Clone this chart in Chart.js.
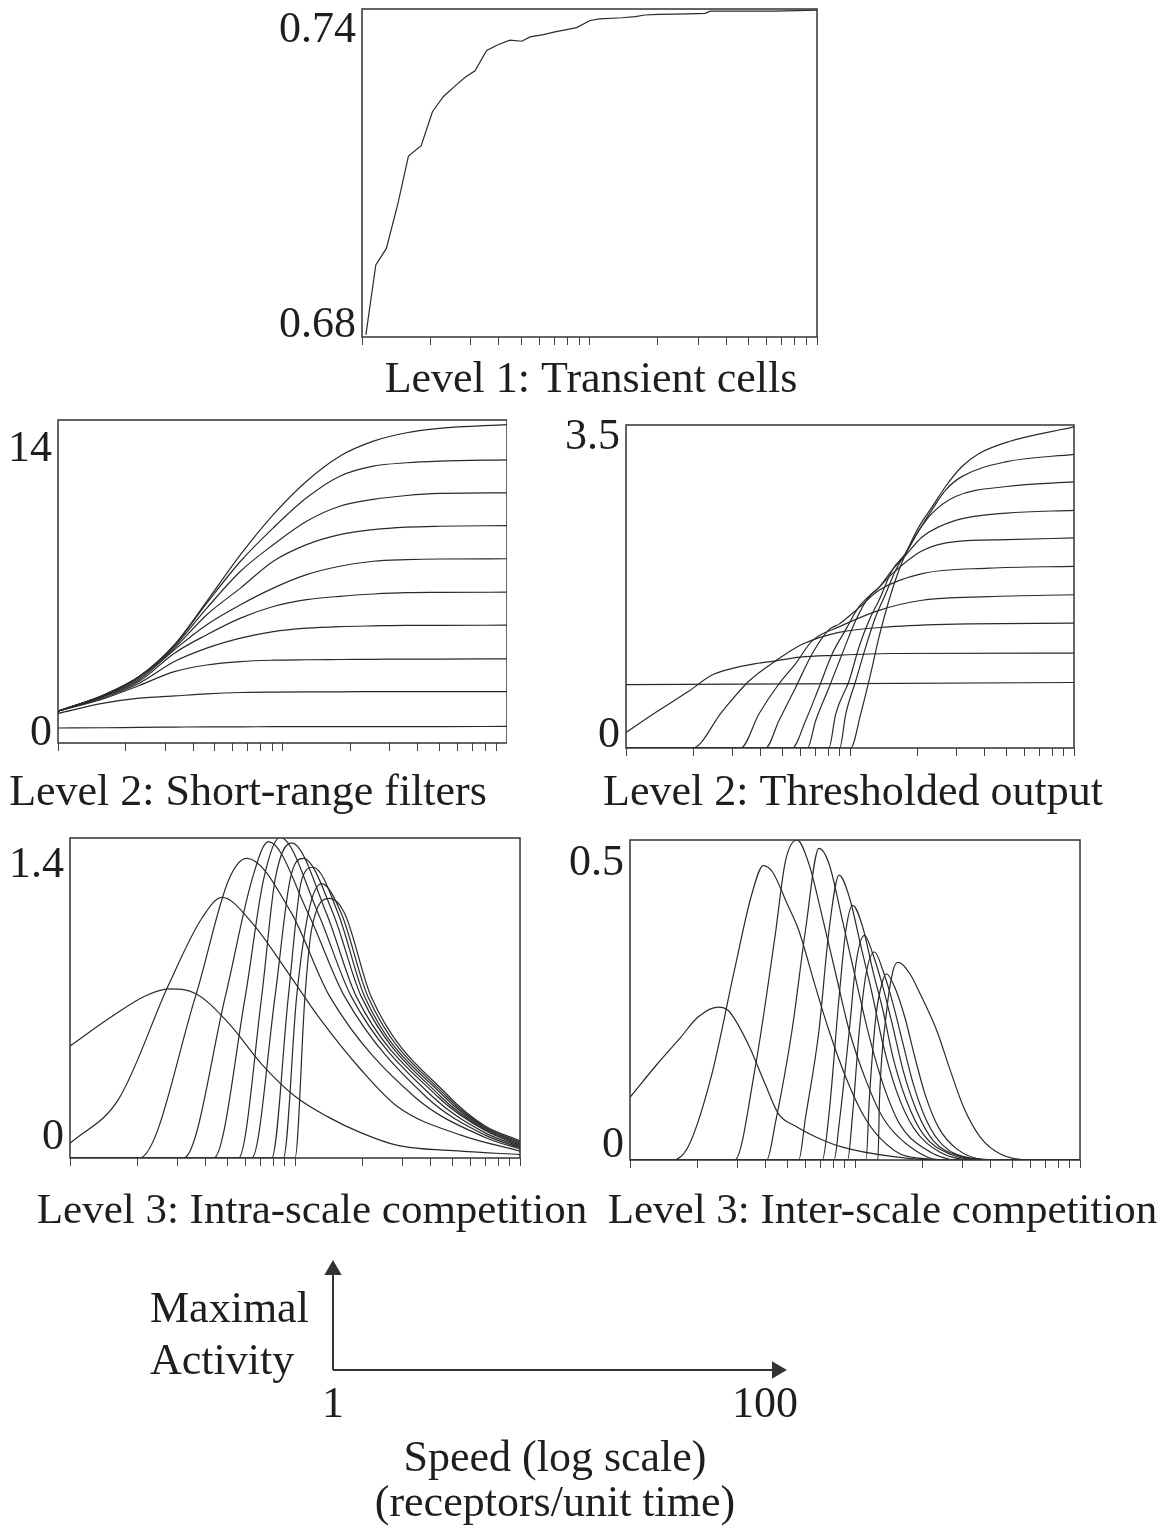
<!DOCTYPE html>
<html>
<head>
<meta charset="utf-8">
<script src="https://cdn.jsdelivr.net/npm/chart.js@4.4.0/dist/chart.umd.min.js"></script>
<style>
  html, body { margin: 0; padding: 0; background: #fff; }
  body { position: relative; width: 1176px; height: 1529px; overflow: hidden; }
  canvas { position: absolute; }
</style>
</head>
<body>
<canvas id="transientChart"></canvas>
<canvas id="filterChart"></canvas>
<canvas id="thresholdChart"></canvas>
<canvas id="intraChart"></canvas>
<canvas id="interChart"></canvas>
<canvas id="legendChart"></canvas>
<script>
// x axis (speed, log scale) tick marks shared by every panel
const speedTicks = [1, 2, 3, 4, 5, 6, 7, 8, 9, 10, 20, 30, 40, 50, 60, 70, 80, 90, 100];

// Level 1: Transient cells
const transientSpeed = [1.04, 1.15, 1.28, 1.44, 1.6, 1.82, 2.04, 2.28, 2.56, 2.84, 3.14, 3.53, 3.98, 4.47, 5.04, 5.48, 6.27, 7.05, 8.35, 8.78, 10.05, 11.1, 13.9, 15.9, 17.5, 20.1, 27.2, 32.2, 33.9, 65.4, 100];
const transientActivity = [0.6804, 0.6932, 0.6962, 0.7045, 0.7131, 0.7150, 0.7212, 0.7240, 0.7259, 0.7275, 0.7287, 0.7324, 0.7335, 0.7343, 0.7341, 0.7349, 0.7353, 0.7358, 0.7364, 0.7366, 0.7379, 0.7382, 0.7384, 0.7386, 0.7389, 0.7390, 0.7391, 0.7392, 0.7396, 0.7396, 0.7398];
const transientTicks = ['0.68', '0.74'];

// Level 2: Short-range filters (one row per filter, sampled at filterSpeed)
const filterSpeed = [1, 1.6, 2.3, 3.3, 4.6, 6.5, 9.1, 12.8, 18, 25.4, 35.7, 50, 100];
const filterCurves = [
  [1.4, 2.11, 2.92, 4.32, 6.23, 8.28, 10.04, 11.51, 12.61, 13.27, 13.64, 13.83, 14.0],
  [1.4, 2.11, 2.92, 4.3, 6.15, 7.99, 9.46, 10.78, 11.73, 12.17, 12.32, 12.39, 12.45],
  [1.4, 2.11, 2.92, 4.25, 5.93, 7.55, 8.72, 9.75, 10.41, 10.71, 10.88, 10.97, 11.0],
  [1.4, 2.1, 2.85, 4.17, 5.64, 6.81, 7.99, 8.72, 9.16, 9.38, 9.49, 9.53, 9.56],
  [1.4, 2.08, 2.78, 4.1, 5.2, 6.08, 6.81, 7.4, 7.77, 7.99, 8.06, 8.09, 8.1],
  [1.4, 2.05, 2.71, 3.95, 4.76, 5.49, 6.0, 6.3, 6.45, 6.55, 6.61, 6.62, 6.63],
  [1.4, 2.0, 2.63, 3.58, 4.17, 4.61, 4.9, 5.05, 5.12, 5.15, 5.17, 5.17, 5.18],
  [1.4, 1.95, 2.53, 3.14, 3.43, 3.58, 3.64, 3.66, 3.67, 3.68, 3.69, 3.69, 3.7],
  [1.3, 1.75, 1.97, 2.07, 2.16, 2.22, 2.24, 2.25, 2.25, 2.26, 2.26, 2.26, 2.26],
  [0.66, 0.67, 0.69, 0.7, 0.71, 0.71, 0.72, 0.72, 0.72, 0.72, 0.72, 0.72, 0.73]
];
const filterTicks = ['0', '14'];

// Level 2: Thresholded output, [speed, activity] per curve
const thresholdCurves = [
  [[1, 0], [10.07, 0], [11.16, 0.37], [12.37, 0.81], [13.48, 1.21], [14.93, 1.61], [16.55, 1.94], [18.3, 2.19], [20.3, 2.41], [23.3, 2.63], [26.7, 2.85], [31.7, 3.07], [37.7, 3.21], [51.3, 3.34], [100, 3.5]],
  [[1, 0], [9.0, 0], [9.57, 0.37], [10.6, 0.73], [11.75, 1.1], [13.02, 1.43], [14.43, 1.68], [16.0, 1.94], [17.7, 2.12], [20.3, 2.37], [23.3, 2.6], [26.7, 2.81], [31.7, 2.96], [50, 3.12], [100, 3.2]],
  [[1, 0], [8.05, 0], [8.63, 0.37], [9.9, 0.73], [10.97, 1.1], [12.16, 1.39], [13.48, 1.61], [15.45, 1.94], [17.7, 2.12], [20.3, 2.37], [23.3, 2.56], [29.6, 2.74], [50, 2.85], [100, 2.9]],
  [[1, 0], [6.45, 0], [7.03, 0.3], [8.06, 0.66], [9.24, 1.03], [10.6, 1.39], [12.16, 1.65], [13.48, 1.75], [15.45, 1.94], [17.7, 2.1], [21.0, 2.3], [29.6, 2.48], [50, 2.56], [100, 2.59]],
  [[1, 0], [5.52, 0], [6.34, 0.3], [7.27, 0.66], [8.34, 1.03], [9.57, 1.29], [10.97, 1.54], [13.48, 1.75], [15.45, 1.9], [21.0, 2.15], [29.6, 2.25], [50, 2.27], [100, 2.29]],
  [[1, 0], [4.2, 0], [4.82, 0.3], [5.72, 0.66], [6.79, 1.03], [8.06, 1.29], [8.93, 1.35], [10.97, 1.53], [13.48, 1.72], [21.0, 1.9], [41.7, 1.96], [100, 1.98]],
  [[1, 0], [3.25, 0], [3.92, 0.37], [4.82, 0.7], [5.72, 0.92], [6.79, 1.17], [8.93, 1.32], [13.48, 1.5], [21.0, 1.61], [41.7, 1.65], [100, 1.67]],
  [[1, 0], [1.98, 0], [2.69, 0.4], [3.54, 0.73], [4.66, 0.95], [6.12, 1.13], [8.93, 1.26], [14.9, 1.32], [29.6, 1.35], [100, 1.36]],
  [[1, 0.17], [1.36, 0.39], [1.91, 0.62], [2.4, 0.79], [2.9, 0.86], [3.79, 0.92], [4.66, 0.95], [6, 0.99], [8.5, 1.01], [15, 1.03], [100, 1.035]],
  [[1, 0.69], [100, 0.714]]
];
const thresholdTicks = ['0', '3.5'];

// Level 3: Intra-scale competition
const intraCurves = [
  [[1, 0.49], [1.54, 0.62], [2.17, 0.71], [2.75, 0.74], [3.61, 0.72], [5.07, 0.59], [7.12, 0.41], [10, 0.27], [14, 0.18], [19.7, 0.11], [28.6, 0.055], [54.6, 0.03], [100, 0.015]],
  [[1, 0.064], [1.65, 0.26], [2.75, 0.76], [3.86, 1.05], [4.74, 1.14], [6.43, 1.03], [9.03, 0.83], [12.68, 0.62], [19.7, 0.385], [28.6, 0.224], [54.6, 0.1], [100, 0.03]],
  [[1, 0], [2.03, 0], [3.61, 0.706], [5.07, 1.216], [6.11, 1.311], [9.66, 1.07], [14.28, 0.706], [33.96, 0.268], [70, 0.09], [100, 0.04]],
  [[1, 0], [3.2, 0], [4.9, 0.706], [6.43, 1.216], [7.62, 1.384], [11.45, 1.07], [16.63, 0.706], [38.2, 0.268], [70, 0.1], [100, 0.045]],
  [[1, 0], [4.35, 0], [6.01, 0.706], [7.24, 1.216], [8.58, 1.403], [12.68, 1.07], [17.8, 0.706], [40.9, 0.268], [70, 0.11], [100, 0.05]],
  [[1, 0], [5.61, 0], [7.11, 0.706], [8.15, 1.216], [9.66, 1.379], [13.8, 1.07], [18.74, 0.706], [43.1, 0.268], [70, 0.12], [100, 0.055]],
  [[1, 0], [6.43, 0], [8.15, 0.706], [9.5, 1.216], [10.88, 1.311], [14.77, 1.07], [19.72, 0.706], [44.5, 0.268], [70, 0.125], [100, 0.06]],
  [[1, 0], [7.88, 0], [9.34, 0.706], [10.7, 1.216], [12.05, 1.272], [15.55, 1.07], [20.4, 0.706], [46.1, 0.268], [70, 0.13], [100, 0.065]],
  [[1, 0], [8.88, 0], [10.17, 0.706], [11.45, 1.07], [13.11, 1.2], [16.07, 1.07], [21.1, 0.706], [47.3, 0.268], [70, 0.135], [100, 0.07]],
  [[1, 0], [10.0, 0], [11.07, 0.706], [11.85, 1.0], [14.28, 1.136], [16.63, 1.07], [21.8, 0.706], [48.5, 0.268], [70, 0.14], [100, 0.075]]
];
const intraTicks = ['0', '1.4'];

// Level 3: Inter-scale competition
const interCurves = [
  [[1, 0.098], [1.322, 0.15], [1.683, 0.192], [2.0, 0.223], [2.459, 0.239], [2.727, 0.234], [3.353, 0.181], [3.983, 0.119], [4.571, 0.072], [5.5, 0.052], [6.7, 0.036], [8.8, 0.02], [14.26, 0.006], [23.9, 0], [100, 0]],
  [[1, 0], [1.544, 0], [1.803, 0.019], [2.295, 0.13], [2.921, 0.299], [3.47, 0.414], [3.914, 0.46], [4.3, 0.45], [5.0, 0.4], [5.622, 0.359], [6.68, 0.27], [7.665, 0.202], [9.11, 0.129], [10.82, 0.072], [12.86, 0.035], [16.93, 0.006], [28.4, 0], [100, 0]],
  [[1, 0], [2.921, 0], [3.592, 0.142], [4.417, 0.351], [4.9, 0.466], [5.526, 0.5], [6.235, 0.463], [7.155, 0.38], [8.21, 0.291], [9.43, 0.202], [11.2, 0.124], [13.31, 0.066], [16.93, 0.025], [23.9, 0], [100, 0]],
  [[1, 0], [4.052, 0], [4.417, 0.056], [5.246, 0.202], [6.024, 0.359], [6.915, 0.487], [7.665, 0.463], [8.8, 0.374], [10.1, 0.281], [11.59, 0.192], [13.31, 0.119], [15.81, 0.056], [20.12, 0.019], [28.4, 0], [100, 0]],
  [[1, 0], [5.622, 0], [6.024, 0.066], [6.915, 0.202], [7.665, 0.359], [8.5, 0.445], [9.43, 0.411], [10.64, 0.333], [12.0, 0.255], [13.31, 0.181], [15.28, 0.108], [18.15, 0.051], [23.9, 0.012], [33.76, 0], [100, 0]],
  [[1, 0], [7.155, 0], [7.665, 0.072], [8.5, 0.255], [9.11, 0.359], [9.76, 0.398], [10.82, 0.364], [12.0, 0.296], [13.31, 0.234], [14.76, 0.16], [16.93, 0.093], [20.12, 0.04], [26.51, 0.009], [37.42, 0], [100, 0]],
  [[1, 0], [8.07, 0], [8.5, 0.056], [9.43, 0.202], [10.1, 0.307], [11.01, 0.351], [12.0, 0.322], [13.31, 0.27], [14.76, 0.207], [16.36, 0.14], [18.79, 0.077], [22.32, 0.03], [29.4, 0.006], [40.1, 0], [100, 0]],
  [[1, 0], [9.27, 0], [9.76, 0.072], [10.45, 0.202], [11.2, 0.291], [12.21, 0.325], [13.31, 0.296], [14.76, 0.244], [16.36, 0.181], [18.15, 0.119], [20.83, 0.061], [24.74, 0.022], [32.6, 0.003], [44.46, 0], [100, 0]],
  [[1, 0], [11.2, 0], [11.59, 0.098], [12.42, 0.228], [13.31, 0.281], [13.77, 0.291], [15.02, 0.27], [16.65, 0.223], [18.47, 0.16], [20.47, 0.103], [23.5, 0.051], [28.4, 0.017], [37.42, 0.001], [49.3, 0], [100, 0]],
  [[1, 0], [12.64, 0], [12.86, 0.098], [13.77, 0.228], [14.76, 0.296], [15.54, 0.309], [17.53, 0.291], [19.45, 0.26], [23.1, 0.202], [26.51, 0.14], [30.43, 0.082], [36.15, 0.035], [44.46, 0.009], [60.6, 0], [100, 0]]
];
const interTicks = ['0', '0.5'];

// axis legend
const legendSpeedTicks = [1, 100];
const legendSpeedLabels = ['1', '100'];
const legendActivityLabel = ['Maximal', 'Activity'];
const legendSpeedTitle = ['Speed (log scale)', '(receptors/unit time)'];

const serif = "'Liberation Serif', 'Times New Roman', serif";
const ink = '#1e1e1e';
const curveColor = '#2a2a2a';

// box round the plot area
const frame = {
  id: 'frame',
  afterDatasetsDraw(chart) {
    const { ctx, chartArea: a } = chart;
    ctx.save();
    ctx.strokeStyle = '#333';
    ctx.lineWidth = 1.5;
    ctx.strokeRect(a.left, a.top, a.right - a.left, a.bottom - a.top);
    ctx.restore();
  }
};

function place(id, g) {
  const cv = document.getElementById(id);
  cv.width = g.w;
  cv.height = g.h;
  cv.style.left = g.x + 'px';
  cv.style.top = g.y + 'px';
  return cv;
}

function panel(id, g, curves, yMin, yMax, yLabels, shift, title, titleSize, smooth) {
  new Chart(place(id, g), {
    type: 'line',
    data: {
      datasets: curves.map(pts => ({
        data: pts.map(p => ({ x: p[0], y: p[1] })),
        borderColor: curveColor,
        borderWidth: 1.2,
        pointRadius: 0,
        fill: false,
        tension: 0,
        cubicInterpolationMode: smooth ? 'monotone' : 'default'
      }))
    },
    options: {
      responsive: false,
      animation: false,
      layout: { autoPadding: false, padding: g.pad },
      plugins: {
        legend: { display: false },
        tooltip: { enabled: false },
        title: {
          display: true,
          text: title,
          position: 'bottom',
          color: ink,
          padding: 0,
          font: { family: serif, size: titleSize, weight: 'normal', lineHeight: '44px' }
        }
      },
      scales: {
        x: {
          type: 'logarithmic',
          min: 1,
          max: 100,
          afterBuildTicks: s => { s.ticks = speedTicks.map(v => ({ value: v })); },
          afterFit: s => { s.height = g.xh; s.paddingLeft = 0; s.paddingRight = 0; },
          ticks: { display: false },
          grid: { drawOnChartArea: false, drawTicks: true, tickLength: 8, color: '#444', lineWidth: 1 },
          border: { display: false }
        },
        y: {
          type: 'linear',
          min: yMin,
          max: yMax,
          afterBuildTicks: s => { s.ticks = [{ value: yMin }, { value: yMax }]; },
          afterFit: s => { s.width = g.yw; s.paddingTop = 0; s.paddingBottom = 0; },
          grid: { display: false, drawTicks: false },
          border: { display: false },
          ticks: {
            padding: 6,
            color: ink,
            autoSkip: false,
            callback: (v, i) => (i === 0 ? [yLabels[0], ''] : ['', yLabels[1]]),
            font: c => ({ family: serif, size: 44, lineHeight: (c.index === 0 ? shift[0] : shift[1]) * 2 + 'px' })
          }
        },
        // empty right-hand axis, only used to centre the caption like the original
        yRight: {
          axis: 'y',
          type: 'linear',
          position: 'right',
          afterFit: s => { s.width = g.yr; s.paddingTop = 0; s.paddingBottom = 0; },
          ticks: { display: false },
          grid: { display: false, drawTicks: false },
          border: { display: false }
        }
      }
    },
    plugins: [frame]
  });
}

// Level 1: Transient cells
panel('transientChart',
  { x: 270, y: 0, w: 642, h: 402, pad: { left: 0, right: 0, top: 9, bottom: 0 }, yw: 92, yr: 95, xh: 21 },
  [transientSpeed.map((s, i) => [s, transientActivity[i]])],
  0.68, 0.74, transientTicks, [12, 21], 'Level 1: Transient cells', 44, false);

// Level 2: Short-range filters
panel('filterChart',
  { x: -11, y: 410, w: 518, h: 405, pad: { left: 0, right: 0, top: 10, bottom: 0 }, yw: 69, yr: 0, xh: 28 },
  filterCurves.map(row => filterSpeed.map((s, i) => [s, row[i]])),
  0, 14.2, filterTicks, [10, 29], 'Level 2: Short-range filters', 44, true);

// Level 2: Thresholded output
panel('thresholdChart',
  { x: 555, y: 410, w: 591, h: 405, pad: { left: 5, right: 0, top: 15, bottom: 0 }, yw: 66, yr: 72, xh: 23 },
  thresholdCurves, 0, 3.52, thresholdTicks, [13, 12], 'Level 2: Thresholded output', 44, true);

// Level 3: Intra-scale competition
panel('intraChart',
  { x: 0, y: 828, w: 620, h: 406, pad: { left: 4, right: 0, top: 10, bottom: 0 }, yw: 66, yr: 100, xh: 32 },
  intraCurves, 0, 1.4, intraTicks, [21, 27], 'Level 3: Intra-scale competition', 43, true);

// Level 3: Inter-scale competition
panel('interChart',
  { x: 560, y: 828, w: 641, h: 406, pad: { left: 4, right: 0, top: 12, bottom: 0 }, yw: 66, yr: 121, xh: 30 },
  interCurves, 0, 0.5, interTicks, [15, 23], 'Level 3: Inter-scale competition', 43, true);

// Axis legend with arrows
const legendMax = 113.6;
new Chart(place('legendChart', { x: 140, y: 1245, w: 680, h: 284 }), {
  type: 'line',
  data: {
    datasets: [
      {
        data: [{ x: 1, y: 0 }, { x: legendMax, y: 0 }],
        borderColor: '#333',
        borderWidth: 2,
        pointStyle: 'triangle',
        pointRadius: [0, 8],
        pointRotation: [0, 90],
        pointBackgroundColor: '#333',
        pointBorderColor: '#333',
        clip: false
      },
      {
        data: [{ x: 1, y: 0 }, { x: 1, y: 1 }],
        borderColor: '#333',
        borderWidth: 2,
        pointStyle: 'triangle',
        pointRadius: [0, 8],
        pointRotation: [0, 0],
        pointBackgroundColor: '#333',
        pointBorderColor: '#333',
        clip: false
      }
    ]
  },
  options: {
    responsive: false,
    animation: false,
    layout: { autoPadding: false, padding: { left: 10, right: 43, top: 25, bottom: 0 } },
    plugins: { legend: { display: false }, tooltip: { enabled: false } },
    scales: {
      x: {
        type: 'logarithmic',
        min: 1,
        max: legendMax,
        afterBuildTicks: s => { s.ticks = legendSpeedTicks.map(v => ({ value: v })); },
        afterFit: s => { s.height = 159; s.paddingLeft = 0; s.paddingRight = 0; },
        ticks: {
          autoSkip: false,
          maxRotation: 0,
          padding: 13,
          color: ink,
          font: { family: serif, size: 44, lineHeight: 1 },
          callback: (v, i) => legendSpeedLabels[i]
        },
        grid: { display: false, drawTicks: false },
        border: { display: false },
        title: {
          display: true,
          text: legendSpeedTitle,
          color: ink,
          padding: { top: 0, bottom: 2 },
          font: { family: serif, size: 44, lineHeight: '45px' }
        }
      },
      y: {
        type: 'linear',
        min: 0,
        max: 1,
        afterBuildTicks: s => { s.ticks = [{ value: 0.34 }]; },
        afterFit: s => { s.width = 183; s.paddingTop = 0; s.paddingBottom = 0; },
        grid: { display: false, drawTicks: false },
        border: { display: false },
        ticks: {
          crossAlign: 'far',
          padding: 0,
          color: ink,
          font: { family: serif, size: 44, lineHeight: '52px' },
          callback: () => legendActivityLabel
        }
      }
    }
  }
});
</script>
</body>
</html>
